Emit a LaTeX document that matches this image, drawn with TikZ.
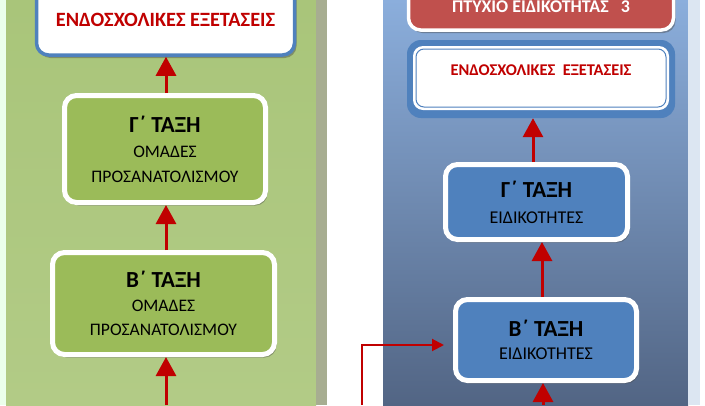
\documentclass[tikz,border=0pt]{standalone}
\usepackage{fontspec}
\setmainfont{Carlito}
\usetikzlibrary{shadows,arrows.meta,calc}
\definecolor{gpanel}{HTML}{A9C57A}
\definecolor{gpanelb}{HTML}{B2CB86}
\definecolor{gbox}{HTML}{9BBB59}
\definecolor{gstrip}{HTML}{A7AD91}
\definecolor{bpanelt}{HTML}{8BAEDC}
\definecolor{bpanelb}{HTML}{526584}
\definecolor{bbox}{HTML}{4F81BD}
\definecolor{rbox}{HTML}{C0504D}
\definecolor{darkred}{HTML}{C00000}
\definecolor{lstrip}{HTML}{DCE6F2}
\tikzset{
  x=1pt, y=-1pt,
  shad/.style={drop shadow={shadow xshift=2pt, shadow yshift=-3pt, opacity=0.45, fill=black!70}},
  greenbox/.style={draw=white, line width=5pt, fill=gbox, rounded corners=12pt, shad, align=center, inner sep=0pt},
  bluebox/.style={draw=white, line width=5pt, fill=bbox, rounded corners=12pt, shad, align=center, inner sep=0pt},
  arr/.style={draw=darkred, line width=3pt, -{Triangle[width=20pt,length=19pt]}},
  arrsm/.style={draw=darkred, line width=2pt, -{Triangle[width=12pt,length=12pt]}}
}
\newcommand{\ttlx}[1]{{\bfseries\fontsize{23}{25}\selectfont #1}}
\begin{document}
\begin{tikzpicture}
\useasboundingbox (0,0) rectangle (705,405);
% panels
\fill[green!8!white] (0,0) rectangle (6,405);
\shade[top color=gpanel, bottom color=gpanelb] (6,0) rectangle (316,405);
\fill[gstrip] (316,0) rectangle (327,405);
\shade[top color=bpanelt, bottom color=bpanelb] (383,0) rectangle (688,405);
\fill[lstrip] (688,0) rectangle (700,405);

% left column
\node[draw=bbox, line width=3.5pt, fill=white, rounded corners=12pt, shad,
      minimum width=258pt, minimum height=80pt, inner sep=0pt] (tl) at (165.5,15) {};
\node[text=darkred, font=\fontsize{20.3}{22}\selectfont\bfseries] (tlt) at (165.5,20) {ΕΝΔΟΣΧΟΛΙΚΕΣ ΕΞΕΤΑΣΕΙΣ};
\node[greenbox, minimum width=201pt, minimum height=107pt, font=\fontsize{17.6}{25}\selectfont] (gl) at (165,149)
  {\ttlx{Γ΄ ΤΑΞΗ}\\ΟΜΑΔΕΣ\\ΠΡΟΣΑΝΑΤΟΛΙΣΜΟΥ};
\node[greenbox, minimum width=222pt, minimum height=102pt, font=\fontsize{17.6}{24}\selectfont] (bl) at (163.5,303.5)
  {\ttlx{Β΄ ΤΑΞΗ}\\ΟΜΑΔΕΣ\\ΠΡΟΣΑΝΑΤΟΛΙΣΜΟΥ};
\coordinate (lb) at (166,405);
\draw[arr] (gl.north -| 166,0) -- (tl.south -| 166,0);
\draw[arr] (bl.north -| 166,0) -- (gl.south -| 166,0);
\draw[arr] (lb) -- (bl.south -| lb);

% right column
\node[draw=white, line width=3.5pt, fill=rbox, rounded corners=12pt, shad,
      minimum width=265pt, minimum height=62pt, inner sep=0pt] (pt) at (541,-1) {};
\node[text=white, font=\fontsize{17.9}{19}\selectfont\bfseries] (ptt) at (541,7) {ΠΤΥΧΙΟ ΕΙΔΙΚΟΤΗΤΑΣ \ \ 3};
\node[fill=bbox, rounded corners=14pt, minimum width=268pt, minimum height=78pt, inner sep=0pt] (en) at (541,79) {};
\node[fill=white, rounded corners=10pt, minimum width=256pt, minimum height=64pt, inner sep=0pt] (enw) at (541,78) {};
\node[draw=bbox, line width=1pt, rounded corners=8pt, minimum width=250pt, minimum height=58pt, inner sep=0pt] (eni) at (541,78) {};
\node[text=darkred, font=\fontsize{16.4}{18}\selectfont\bfseries] (ent) at (541,70) {ΕΝΔΟΣΧΟΛΙΚΕΣ \ ΕΞΕΤΑΣΕΙΣ};
\node[bluebox, minimum width=182pt, minimum height=75pt, font=\fontsize{18}{26}\selectfont] (gr) at (536.5,202)
  {\ttlx{Γ΄ ΤΑΞΗ}\\ΕΙΔΙΚΟΤΗΤΕΣ};
\node[bluebox, minimum width=181pt, minimum height=81pt, font=\fontsize{18}{23}\selectfont] (br) at (546,340)
  {\ttlx{Β΄ ΤΑΞΗ}\\ΕΙΔΙΚΟΤΗΤΕΣ};
\coordinate (rb) at (543,405);
\coordinate (ls) at (362,405);
\draw[arr] (gr.north -| 533,0) -- (en.south -| 533,0);
\draw[arr] (br.north -| 542,0) -- (gr.south -| 542,0);
\draw[arr] (rb) -- (br.south -| rb);
\draw[arrsm, shorten >=9pt] (ls) |- ([yshift=-5pt]br.west);
\end{tikzpicture}
\end{document}
